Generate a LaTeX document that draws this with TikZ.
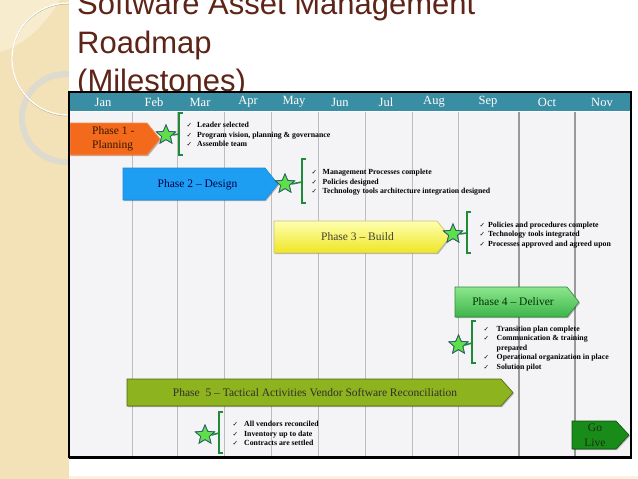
\documentclass[tikz,border=0pt]{standalone}
\usepackage{fontspec}
\setmainfont{Liberation Serif}
\newfontfamily\titlefont{Liberation Sans}
\newfontfamily\dejavu{DejaVu Sans}
\usetikzlibrary{shapes.geometric,shadows}
\definecolor{beige}{HTML}{F3E1B7}
\definecolor{beigelight}{HTML}{F8ECCF}
\definecolor{ringgray}{HTML}{DDDAD0}
\definecolor{brownline}{HTML}{B8A888}
\definecolor{titlebrown}{HTML}{5E2417}
\definecolor{headteal}{HTML}{3A8EA3}
\definecolor{boxbg}{HTML}{F4F4F6}
\definecolor{gridgray}{HTML}{BDBDBD}
\definecolor{griddark}{HTML}{9A9A9A}
\definecolor{orangeP}{HTML}{F46A1C}
\definecolor{orangeD}{HTML}{F58A4A}
\definecolor{blueP}{HTML}{1E9EF2}
\definecolor{blueD}{HTML}{1A88D6}
\definecolor{yellowT}{HTML}{FFFFB0}
\definecolor{yellowB}{HTML}{EEE624}
\definecolor{yellowD}{HTML}{C8C070}
\definecolor{greenT}{HTML}{8CE68C}
\definecolor{greenB}{HTML}{3DB54A}
\definecolor{greenD}{HTML}{2E8B3A}
\definecolor{oliveP}{HTML}{8DB31F}
\definecolor{oliveD}{HTML}{4E6515}
\definecolor{goP}{HTML}{188B18}
\definecolor{goD}{HTML}{0F4F0F}
\definecolor{gotext}{HTML}{1E2E14}
\definecolor{bracketgreen}{HTML}{1F8A3A}
\definecolor{stargreen}{HTML}{5FE04A}
\definecolor{starborder}{HTML}{2F5F6A}
\newcommand\ck{{\dejavu\fontsize{6.5}{6.5}\selectfont ✓}}
\newcommand\cki[1]{\makebox[#1][l]{\ck}}
\newcommand\phasepath[6]{\path[#1] (#2,#3) -- (#5,#3) -- (#6,{(#3+#4)/2}) -- (#5,#4) -- (#2,#4) -- cycle;}
\tikzset{
  phasebox/.style={line width=0.6pt, drop shadow={shadow xshift=1pt, shadow yshift=-1.2pt, opacity=0.25, fill=black}},
  mstar/.style={star, star points=5, star point ratio=2.2, minimum size=20pt, inner sep=0pt, fill=stargreen, draw=starborder, line width=0.8pt},
  bracket/.style={draw=bracketgreen, line width=1.6pt},
  phasetext/.style={font=\fontsize{11.5}{13.5}\selectfont, inner sep=0pt},
  month/.style={text=white, font=\fontsize{12.5}{12.5}\selectfont, inner sep=0pt},
  bullets/.style={anchor=west, inner sep=0pt, font=\fontsize{7.8}{9.5}\selectfont\bfseries, align=left},
  gridline/.style={draw=gridgray, line width=0.8pt},
  gridstrong/.style={draw=griddark, line width=1.1pt},
  titlestyle/.style={anchor=base west, inner sep=0pt, text=titlebrown, font=\titlefont\fontsize{31}{31}\selectfont},
}
\begin{document}
\begin{tikzpicture}[x=1pt,y=-1pt]
\useasboundingbox (0,0) rectangle (638,479);
\fill[white] (0,0) rectangle (638,479);
\fill[beige] (0,0) rectangle (69,479);
\begin{scope}
  \clip (0,0) rectangle (69,479);
  \fill[beigelight] (0,0) -- (60,0) .. controls (45,25) and (25,45) .. (0,52) -- cycle;
  \draw[ringgray, line width=6pt] (66,118) circle (44pt);
  \draw[brownline, line width=0.5pt] (68,60) circle (56pt);
  \draw[white, line width=1.2pt] (68,59) circle (56pt);
\end{scope}
\fill[beige!45] (69,476) rectangle (638,479);
% title
\node[titlestyle] (t1) at (77,14) {Software Asset Management};
\node[titlestyle] (t2) at (77,53) {Roadmap};
\node[titlestyle] (t3) at (77,91) {(Milestones)};
% box
\fill[boxbg] (69,92) rectangle (631,457);
\fill[headteal] (69,92) rectangle (631,111);
\draw[white, line width=1pt] (69,111.5) -- (631,111.5);
\foreach \gx in {132,177,224,271,318,365,412,458} {\draw[gridline] (\gx,112) -- (\gx,457);}
\foreach \gx in {519,575} {\draw[gridstrong] (\gx,112) -- (\gx,457);}
% months
\node[month] (m1) at (103,102) {Jan};
\node[month] (m2) at (154,102) {Feb};
\node[month] (m3) at (200,102) {Mar};
\node[month] (m4) at (248,102) {Apr};
\node[month] (m5) at (294,102) {May};
\node[month] (m6) at (340,102) {Jun};
\node[month] (m7) at (386,102) {Jul};
\node[month] (m8) at (434,102) {Aug};
\node[month] (m9) at (488,102) {Sep};
\node[month] (m10) at (547,102) {Oct};
\node[month] (m11) at (602,102) {Nov};
% phases
\phasepath{phasebox, fill=orangeP, draw=orangeD}{70}{123}{155}{147}{160}
\phasepath{phasebox, fill=blueP, draw=blueD}{123}{168}{200}{265}{278}
\phasepath{phasebox, top color=yellowT, bottom color=yellowB, draw=yellowD}{274}{221}{253}{437}{450}
\phasepath{phasebox, top color=greenT, bottom color=greenB, draw=greenD}{455}{287}{317}{567}{579}
\phasepath{phasebox, fill=oliveP, draw=oliveD}{127}{379}{406}{501}{513}
\phasepath{phasebox, fill=goP, draw=goD}{572}{421}{449}{616}{629}
\node[phasetext, align=left, anchor=west, text=black!80!orange] (p1) at (92,139) {Phase 1 -\\Planning};
\node[phasetext, text=blue!30!black] (p2) at (197.5,185) {Phase 2 – Design};
\node[phasetext, text=black!85!yellow] (p3) at (357.5,237) {Phase 3 – Build};
\node[phasetext, text=black!80!green] (p4) at (513,302) {Phase 4 – Deliver};
\node[phasetext, text=black!85!olive] (p5) at (315,393) {Phase\ \ 5 – Tactical Activities Vendor Software Reconciliation};
\node[phasetext, align=center, text=gotext, font=\fontsize{11.5}{15}\selectfont] (gl) at (595,435) {Go\\Live};
% brackets
\coordinate (b1t) at (179,113); \coordinate (b1b) at (179,155); \coordinate (b1m) at (179,134);
\coordinate (b2t) at (302,159); \coordinate (b2b) at (302,203); \coordinate (b2m) at (302,182);
\coordinate (b3t) at (467,212); \coordinate (b3b) at (467,253); \coordinate (b3m) at (467,233);
\coordinate (b4t) at (472,321); \coordinate (b4b) at (472,363); \coordinate (b4m) at (472,343);
\coordinate (b5t) at (219,412); \coordinate (b5b) at (219,453); \coordinate (b5m) at (219,433);
\foreach \b in {b1,b2,b3,b4,b5} {\draw[bracket] ([xshift=4pt]\b t) -- (\b t) -- (\b b) -- ([xshift=4pt]\b b);}
% stars
\node[mstar] (s1) at (166,135) {};
\node[mstar] (s2) at (285,184) {};
\node[mstar] (s3) at (453,234) {};
\node[mstar] (s4) at (458.5,345) {};
\node[mstar] (s5) at (205,435) {};
\draw[bracket] (s1.east) -- (b1m);
\draw[bracket] (s2.east) -- (b2m);
\draw[bracket] (s3.east) -- (b3m);
\draw[bracket] (s4.east) -- (b4m);
\draw[bracket] (s5.east) -- (b5m);
\node[mstar] at (s1) {};
\node[mstar] at (s2) {};
\node[mstar] at (s3) {};
\node[mstar] at (s4) {};
\node[mstar] at (s5) {};
% bullet lists
\node[bullets] (l1) at (186.5,134.5) {\cki{10.5pt}Leader selected\\\cki{10.5pt}Program vision, planning \& governance\\\cki{10.5pt}Assemble team};
\node[bullets] (l2) at (311.5,182.5) {\cki{11pt}Management Processes complete\\\cki{11pt}Policies designed\\\cki{11pt}Technology tools architecture integration designed};
\node[bullets] (l3) at (479.5,235) {\cki{8.5pt}Policies and procedures complete\\\cki{8.5pt}Technology tools integrated\\\cki{8.5pt}Processes approved and agreed upon};
\node[bullets] (l4) at (483.5,348.5) {\cki{13pt}Transition plan complete\\\cki{13pt}Communication \& training\\\makebox[13pt]{}prepared\\\cki{13pt}Operational organization in place\\\cki{13pt}Solution pilot};
\node[bullets] (l5) at (232.5,433.5) {\cki{11.5pt}All vendors reconciled\\\cki{11.5pt}Inventory up to date\\\cki{11.5pt}Contracts are settled};
% box border
\draw[black, line width=1.3pt] (69,92) rectangle (631,457);
\draw[black, line width=2.6pt] (68.5,457.5) -- (631.5,457.5);
\draw[black, line width=1.8pt] (631,92) -- (631,457);
\end{tikzpicture}
\end{document}
